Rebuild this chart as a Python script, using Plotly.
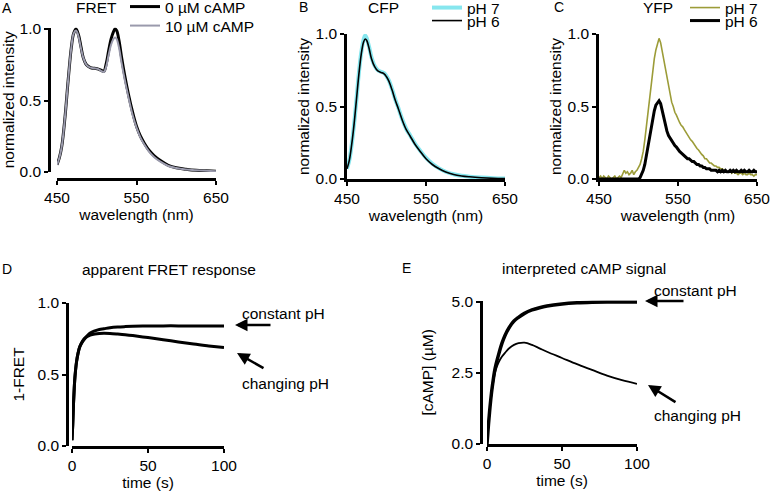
import plotly.graph_objects as go

# ---------------- data ----------------
# Panel A: FRET spectra
wl_A = [450, 453, 456, 460, 464, 468, 471, 474, 477, 480, 483, 487, 492, 497, 502, 506, 509,
        512, 515, 518, 521, 523, 525, 528, 531, 535, 540, 545, 550, 555, 560, 566, 572, 580,
        590, 600, 612, 625, 638, 650]
fret_0uM = [0.05, 0.10, 0.18, 0.38, 0.64, 0.87, 0.97, 1.00, 0.96, 0.88, 0.80, 0.75, 0.73, 0.725,
            0.72, 0.71, 0.705, 0.76, 0.85, 0.93, 0.98, 1.00, 0.99, 0.92, 0.81, 0.68, 0.54, 0.42,
            0.32, 0.25, 0.20, 0.15, 0.115, 0.08, 0.047, 0.03, 0.02, 0.012, 0.008, 0.005]
fret_10uM = [0.05, 0.10, 0.18, 0.38, 0.64, 0.87, 0.97, 0.99, 0.95, 0.87, 0.80, 0.75, 0.73, 0.725,
             0.72, 0.705, 0.70, 0.74, 0.82, 0.89, 0.93, 0.94, 0.93, 0.87, 0.77, 0.65, 0.52, 0.40,
             0.31, 0.24, 0.19, 0.14, 0.105, 0.072, 0.042, 0.028, 0.018, 0.012, 0.008, 0.006]

# Panel B: CFP spectra
wl_B = [450, 453, 456, 459, 462, 465, 468, 471, 473, 475, 478, 481, 485, 489, 493, 497, 500, 503,
        507, 511, 515, 520, 525, 530, 536, 542, 550, 558, 566, 575, 585, 595, 605, 620, 635, 650]
cfp_pH7 = [0.07, 0.13, 0.24, 0.38, 0.55, 0.73, 0.87, 0.96, 0.99, 0.97, 0.91, 0.84, 0.78, 0.75,
           0.74, 0.73, 0.71, 0.68, 0.62, 0.55, 0.49, 0.41, 0.345, 0.30, 0.245, 0.20, 0.145,
           0.105, 0.075, 0.05, 0.033, 0.022, 0.016, 0.01, 0.006, 0.004]
cfp_pH6 = [0.07, 0.13, 0.24, 0.38, 0.55, 0.72, 0.86, 0.945, 0.965, 0.955, 0.90, 0.83, 0.775, 0.745,
           0.735, 0.725, 0.705, 0.675, 0.615, 0.545, 0.485, 0.405, 0.34, 0.295, 0.24, 0.195, 0.14,
           0.10, 0.072, 0.048, 0.031, 0.021, 0.015, 0.009, 0.005, 0.003]

# Panel C: YFP spectra (2 nm steps)
wl_C = list(range(450, 651, 2))
yfp_pH7 = [0.01, 0.02, 0.00, 0.02, 0.01, 0.00, 0.02, 0.01, 0.00, 0.01, 0.02, 0.00, 0.01, 0.02,
           0.01, 0.03, 0.06, 0.04, 0.05, 0.03, 0.04, 0.06, 0.03, 0.05, 0.06, 0.08, 0.10, 0.14,
           0.19, 0.27, 0.37, 0.46, 0.56, 0.65, 0.75, 0.83, 0.89, 0.94, 0.97, 0.94, 0.88, 0.81,
           0.75, 0.69, 0.63, 0.58, 0.53, 0.50, 0.46, 0.44, 0.41, 0.39, 0.37, 0.36, 0.34, 0.32,
           0.31, 0.28, 0.27, 0.26, 0.24, 0.22, 0.21, 0.20, 0.18, 0.17, 0.16, 0.14, 0.14, 0.12,
           0.11, 0.11, 0.10, 0.09, 0.09, 0.08, 0.08, 0.07, 0.07, 0.06, 0.06, 0.05, 0.05, 0.06,
           0.04, 0.05, 0.04, 0.04, 0.03, 0.04, 0.04, 0.03, 0.04, 0.03, 0.03, 0.04, 0.03, 0.03,
           0.02, 0.03, 0.03]
yfp_pH6 = [0.00, 0.00, 0.00, 0.00, 0.00, 0.00, 0.00, 0.00, 0.00, 0.00, 0.00, 0.00, 0.00, 0.00,
           0.00, 0.00, 0.00, 0.00, 0.00, 0.00, 0.00, 0.00, 0.00, 0.00, 0.00, 0.00, 0.01, 0.03,
           0.06, 0.10, 0.16, 0.23, 0.30, 0.36, 0.42, 0.47, 0.51, 0.53, 0.54, 0.52, 0.47, 0.41,
           0.37, 0.33, 0.30, 0.28, 0.26, 0.25, 0.23, 0.22, 0.20, 0.19, 0.18, 0.17, 0.16, 0.15,
           0.14, 0.14, 0.13, 0.12, 0.12, 0.11, 0.10, 0.10, 0.09, 0.09, 0.08, 0.08, 0.07, 0.07,
           0.07, 0.06, 0.06, 0.06, 0.06, 0.05, 0.06, 0.05, 0.06, 0.05, 0.06, 0.05, 0.05, 0.06,
           0.05, 0.06, 0.05, 0.06, 0.05, 0.05, 0.06, 0.05, 0.06, 0.05, 0.05, 0.06, 0.05, 0.05,
           0.06, 0.05, 0.05]

# Panels D and E: time courses
time_s = [0, 0.5, 1, 1.5, 2, 3, 4, 5, 6, 8, 10, 12, 15, 18, 21, 25, 30, 35, 40, 50, 60, 70, 80, 90, 100]
fret_const = [0.04, 0.15, 0.30, 0.41, 0.49, 0.59, 0.65, 0.69, 0.715, 0.75, 0.77, 0.79, 0.805, 0.815,
              0.82, 0.827, 0.832, 0.835, 0.837, 0.839, 0.84, 0.84, 0.84, 0.84, 0.84]
fret_change = [0.04, 0.15, 0.30, 0.41, 0.49, 0.59, 0.65, 0.69, 0.713, 0.745, 0.765, 0.775, 0.783,
               0.787, 0.788, 0.787, 0.783, 0.778, 0.772, 0.758, 0.743, 0.728, 0.713, 0.70, 0.688]
camp_const = [0, 0.35, 0.70, 1.0, 1.3, 1.8, 2.2, 2.55, 2.8, 3.2, 3.55, 3.82, 4.12, 4.33, 4.46, 4.6,
              4.72, 4.8, 4.86, 4.93, 4.97, 4.99, 5.0, 5.0, 5.0]
camp_change = [0, 0.35, 0.70, 1.0, 1.28, 1.75, 2.12, 2.42, 2.63, 2.90, 3.08, 3.21, 3.38, 3.49, 3.55,
               3.57, 3.49, 3.37, 3.25, 3.03, 2.81, 2.61, 2.41, 2.25, 2.12]

W, H = 770, 495
FONT = "Liberation Sans, Arial, Helvetica, sans-serif"
FS = 15.5
GREY = "#9a9aac"
CYAN = "#86e6ee"
OLIVE = "#9c9c38"


def px(x):
    return x / W


def py(y):
    return 1 - y / H


fig = go.Figure()

# A
fig.add_trace(go.Scatter(x=wl_A, y=fret_0uM, mode="lines", name="0 µM cAMP",
                         line=dict(color="black", width=3, shape="spline"),
                         xaxis="x", yaxis="y", legend="legend"))
fig.add_trace(go.Scatter(x=wl_A, y=fret_10uM, mode="lines", name="10 µM cAMP",
                         line=dict(color=GREY, width=2, shape="spline"),
                         xaxis="x", yaxis="y", legend="legend2"))
# B
fig.add_trace(go.Scatter(x=wl_B, y=cfp_pH7, mode="lines", name="pH 7",
                         line=dict(color=CYAN, width=4, shape="spline"),
                         xaxis="x2", yaxis="y2", legend="legend3"))
fig.add_trace(go.Scatter(x=wl_B, y=cfp_pH6, mode="lines", name="pH 6",
                         line=dict(color="black", width=1.6, shape="spline"),
                         xaxis="x2", yaxis="y2", legend="legend4"))
# C
fig.add_trace(go.Scatter(x=wl_C, y=yfp_pH7, mode="lines", name="pH 7",
                         line=dict(color=OLIVE, width=1.6),
                         xaxis="x3", yaxis="y3", legend="legend5"))
fig.add_trace(go.Scatter(x=wl_C, y=yfp_pH6, mode="lines", name="pH 6",
                         line=dict(color="black", width=3),
                         xaxis="x3", yaxis="y3", legend="legend6"))
# D
fig.add_trace(go.Scatter(x=time_s, y=fret_const, mode="lines", showlegend=False,
                         line=dict(color="black", width=3, shape="spline"), xaxis="x4", yaxis="y4"))
fig.add_trace(go.Scatter(x=time_s, y=fret_change, mode="lines", showlegend=False,
                         line=dict(color="black", width=3, shape="spline"), xaxis="x4", yaxis="y4"))
# E
fig.add_trace(go.Scatter(x=time_s, y=camp_const, mode="lines", showlegend=False,
                         line=dict(color="black", width=3.5, shape="spline"), xaxis="x5", yaxis="y5"))
fig.add_trace(go.Scatter(x=time_s, y=camp_change, mode="lines", showlegend=False,
                         line=dict(color="black", width=1.8, shape="spline"), xaxis="x5", yaxis="y5"))

axis_common = dict(showline=True, linewidth=2.5, linecolor="black", ticks="outside", ticklen=4,
                   tickwidth=2, tickcolor="black", showgrid=False, zeroline=False, automargin=False,
                   ticklabeloverflow="allow",
                   tickfont=dict(size=FS, color="black", family=FONT),
                   title_font=dict(size=FS, color="black", family=FONT))

wl_ticks = [450, 550, 650]
int_ticks = [0, 0.5, 1.0]

layout = dict(
    width=W, height=H, margin=dict(l=0, r=0, t=0, b=0, autoexpand=False),
    paper_bgcolor="white", plot_bgcolor="white",
    font=dict(family=FONT, size=FS, color="black"),
    # A
    xaxis=dict(axis_common, domain=[px(57), px(216)], range=[450, 650], tickvals=wl_ticks,
               anchor="free", position=py(179), title=dict(text="wavelength (nm)", standoff=3)),
    yaxis=dict(axis_common, domain=[py(172), py(27.6)], range=[0, 1.01], tickvals=int_ticks,
               tickformat=".1f", anchor="free", position=px(49),
               title=dict(text="normalized intensity", standoff=2)),
    # B
    xaxis2=dict(axis_common, domain=[px(347), px(505)], range=[450, 650], tickvals=wl_ticks,
                anchor="y2", title=dict(text="wavelength (nm)", standoff=2)),
    yaxis2=dict(axis_common, domain=[py(179), py(34)], range=[0, 1.0], tickvals=int_ticks,
                tickformat=".1f", anchor="x2", title=dict(text="normalized intensity", standoff=3)),
    # C
    xaxis3=dict(axis_common, domain=[px(599), px(757)], range=[450, 650], tickvals=wl_ticks,
                anchor="y3", title=dict(text="wavelength (nm)", standoff=2)),
    yaxis3=dict(axis_common, domain=[py(179), py(34)], range=[0, 1.0], tickvals=int_ticks,
                tickformat=".1f", anchor="x3", title=dict(text="normalized intensity", standoff=3)),
    # D
    xaxis4=dict(axis_common, domain=[px(72), px(224)], range=[0, 100], tickvals=[0, 50, 100],
                anchor="y4", title=dict(text="time (s)", standoff=0)),
    yaxis4=dict(axis_common, domain=[py(446), py(303)], range=[0, 1.0], tickvals=int_ticks,
                tickformat=".1f", anchor="free", position=px(67),
                title=dict(text="1-FRET", standoff=8)),
    # E
    xaxis5=dict(axis_common, domain=[px(487), px(637)], range=[0, 100], tickvals=[0, 50, 100],
                anchor="y5", title=dict(text="time (s)", standoff=0)),
    yaxis5=dict(axis_common, domain=[py(444), py(300.6)], range=[0, 5.05], tickvals=[0, 2.5, 5.0],
                tickformat=".1f", anchor="free", position=px(481),
                title=dict(text="[cAMP] (µM)", standoff=13)),
    showlegend=True,
)

legend_common = dict(bgcolor="rgba(0,0,0,0)", borderwidth=0, xanchor="left", yanchor="middle",
                     font=dict(size=FS, family=FONT, color="black"), itemwidth=30,
                     tracegroupgap=0)
legend_pos = {
    "legend": (125, 7), "legend2": (125, 26),
    "legend3": (427, 8), "legend4": (427, 21),
    "legend5": (685, 8), "legend6": (685, 21),
}
for name, (lx, ly) in legend_pos.items():
    layout[name] = dict(legend_common, x=px(lx), y=py(ly))

fig.update_layout(**layout)

ann = []


def text_ann(t, x, y, anchor="center", size=FS):
    ann.append(dict(text=t, x=px(x), y=py(y), xref="paper", yref="paper", showarrow=False,
                    xanchor=anchor, yanchor="middle", font=dict(size=size, family=FONT, color="black")))


text_ann("A", 0, 8, "left", 14)
text_ann("B", 297, 7, "left", 14)
text_ann("C", 552, 7, "left", 14)
text_ann("D", 0, 269, "left", 14)
text_ann("E", 400, 268, "left", 14)
text_ann("FRET", 97, 8)
text_ann("CFP", 383, 8)
text_ann("YFP", 658, 8)
text_ann("apparent FRET response", 169, 269)
text_ann("interpreted cAMP signal", 584, 268)
text_ann("constant pH", 240, 313, "left")
text_ann("changing pH", 240, 383, "left")
text_ann("constant pH", 652, 290, "left")
text_ann("changing pH", 652, 415, "left")


def arrow(tipx, tipy, tailx, taily):
    ann.append(dict(text="", x=px(tipx), y=py(tipy), xref="paper", yref="paper", showarrow=True,
                    ax=tailx - tipx, ay=taily - tipy, arrowhead=2, arrowsize=1, arrowwidth=2.5,
                    arrowcolor="black"))


arrow(235, 325, 272, 325)
arrow(237, 353, 265, 369)
arrow(645, 301, 685, 301)
arrow(648, 385, 677, 403)

fig.update_layout(annotations=ann)
fig.write_html("out.html", config={"displayModeBar": False},
               post_script="document.body.style.margin='0';")
